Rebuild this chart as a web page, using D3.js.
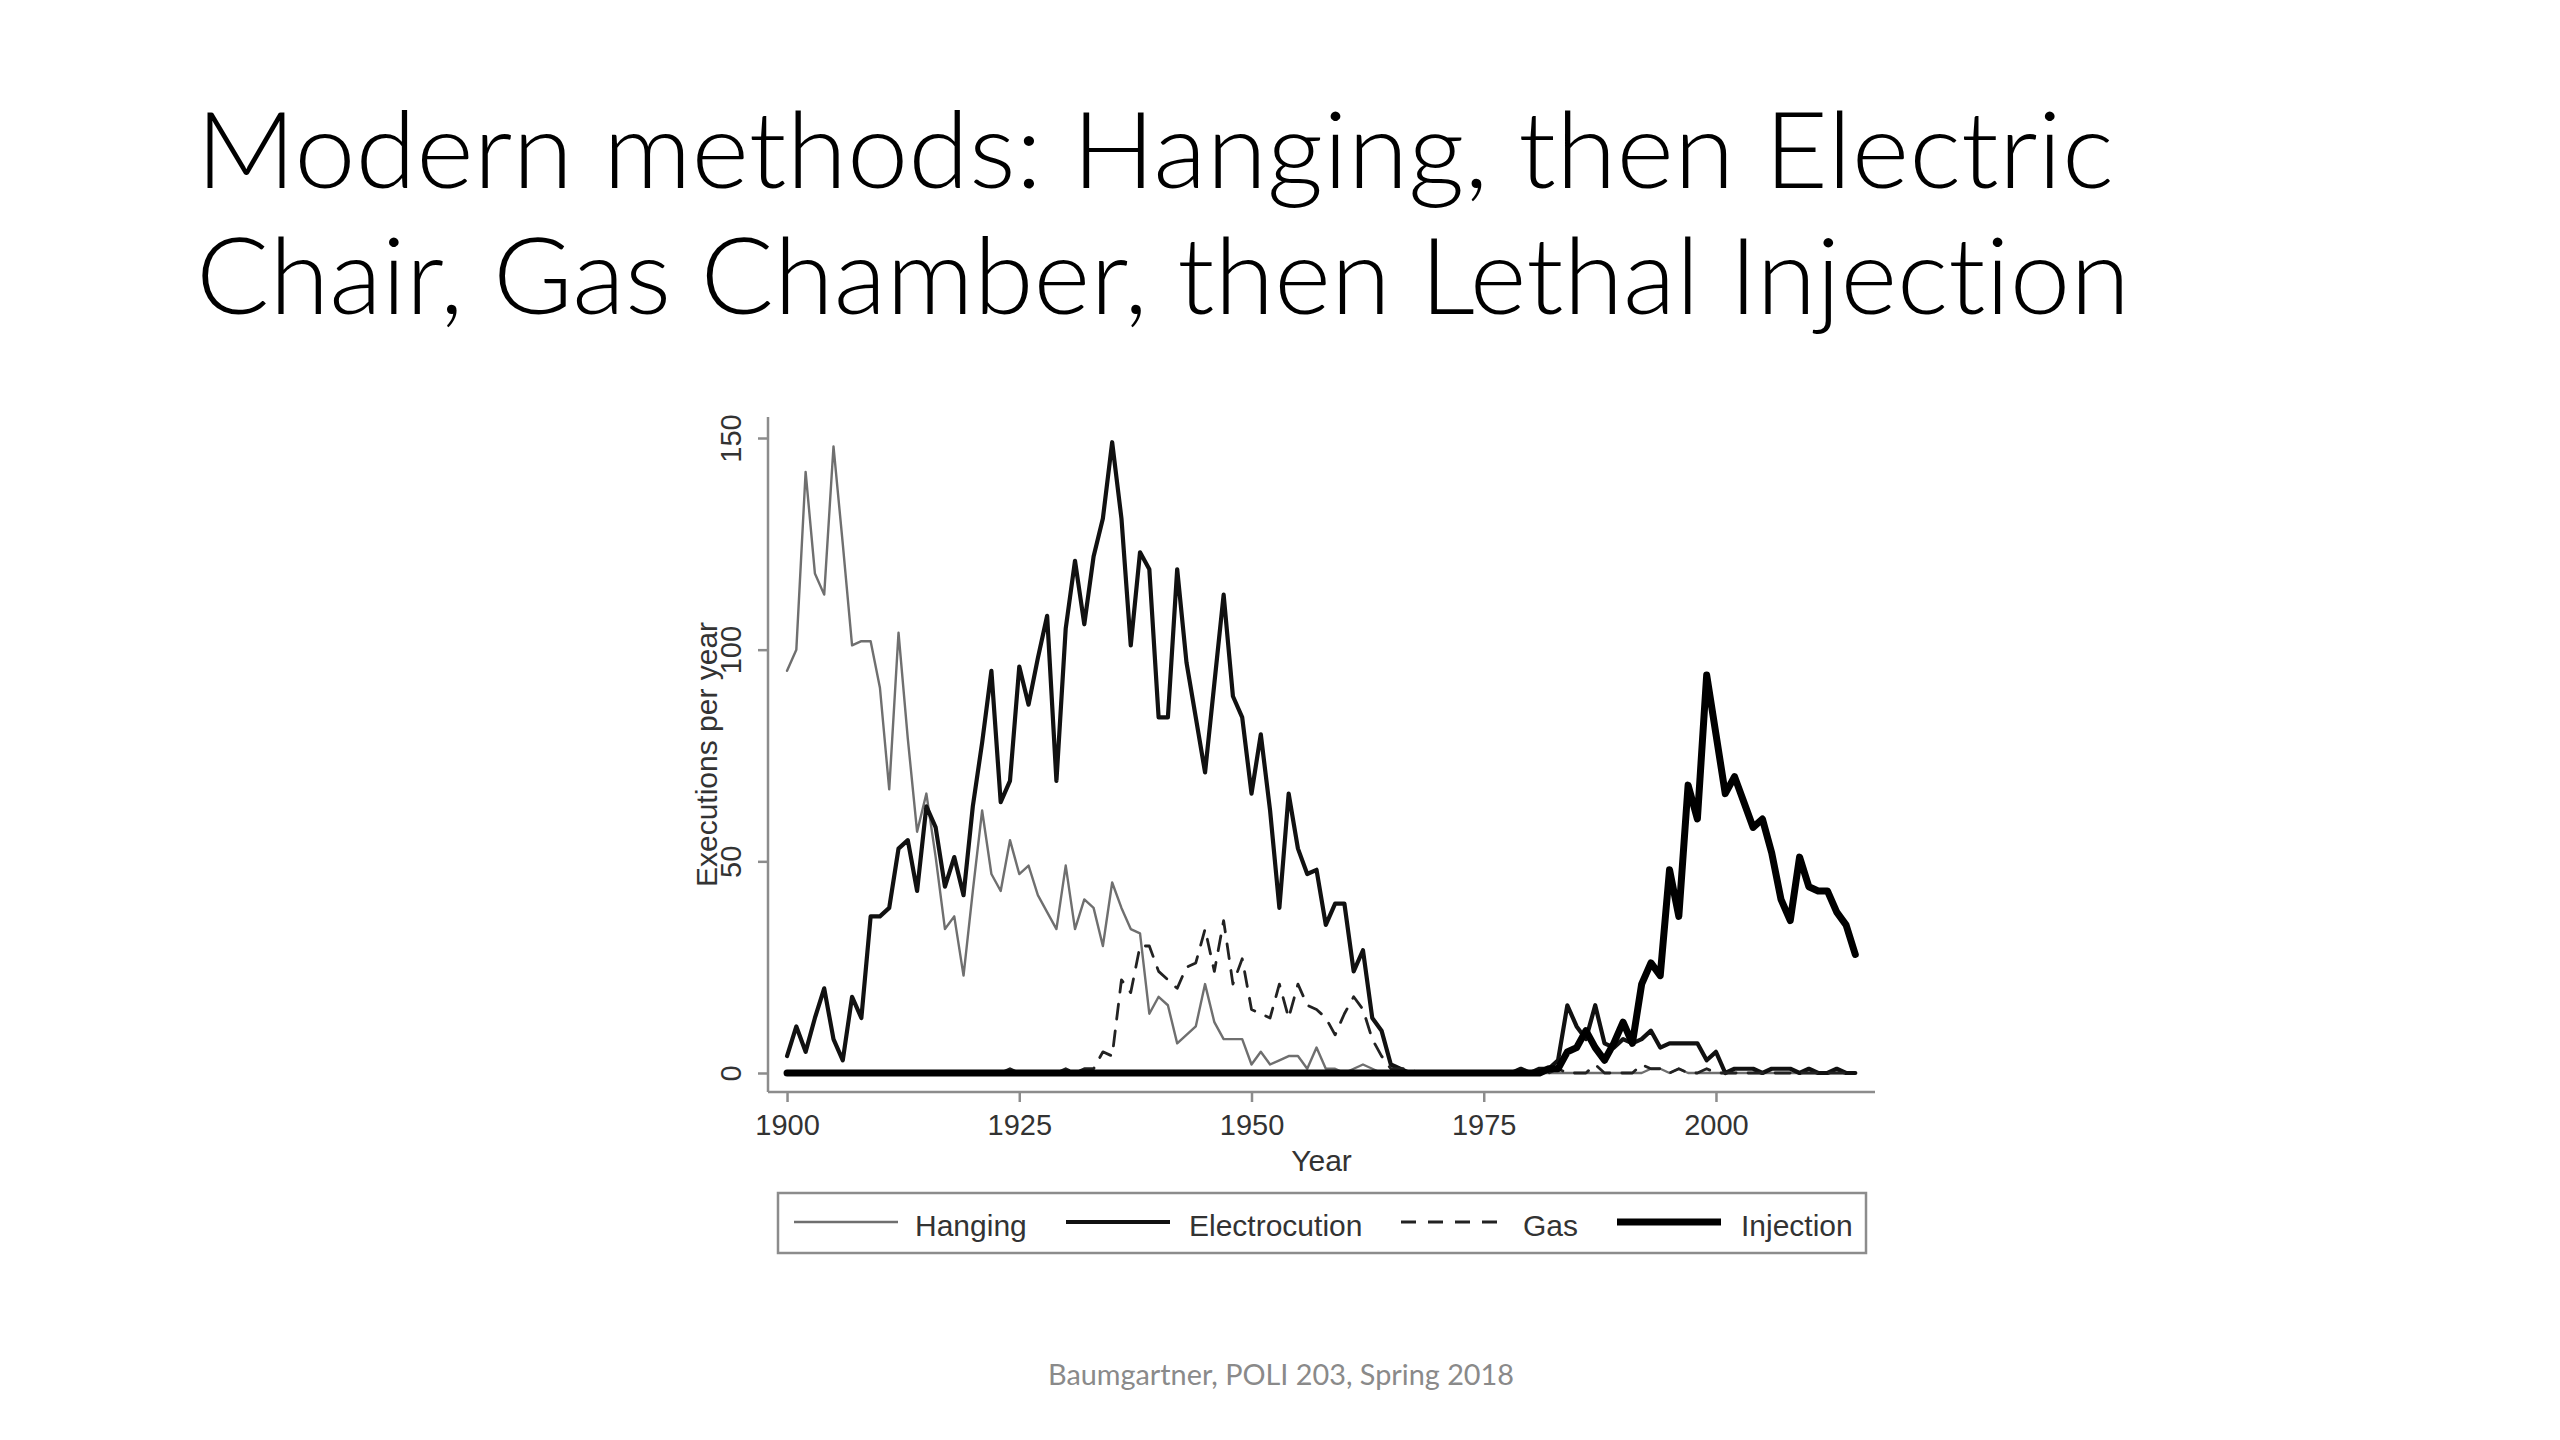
<!DOCTYPE html>
<html>
<head>
<meta charset="utf-8">
<script src="https://cdn.jsdelivr.net/npm/d3@7"></script>
<style>
  html, body { margin: 0; padding: 0; background: #fff; }
  svg { display: block; }
  .title { font-variant-ligatures: none; }
</style>
</head>
<body>
<div id="vis"></div>
<script>
const FRAME_WIDTH = 2560;
const FRAME_HEIGHT = 1440;

// data, executions per year 1900-2015
const YEARS = d3.range(1900, 2016);

const HANGING = [
  95, 100, 142, 118, 113, 148, 125, 101, 102, 102,
  91, 67, 104, 79, 57, 66, 51, 34, 37, 23,
  43, 62, 47, 43, 55, 47, 49, 42, 38, 34,
  49, 34, 41, 39, 30, 45, 39, 34, 33, 14,
  18, 16, 7, 9, 11, 21, 12, 8, 8, 8,
  2, 5, 2, 3, 4, 4, 1, 6, 1, 1,
  0, 1, 2, 1, 0, 0, 0, 0, 0, 0,
  0, 0, 0, 0, 0, 0, 0, 0, 0, 0,
  0, 0, 0, 0, 0, 0, 0, 0, 0, 0,
  0, 0, 0, 1, 1, 0, 1, 0, 0, 0,
  0, 0, 0, 0, 0, 0, 0, 0, 0, 0,
  0, 0, 0, 0, 0, 0
];

const ELECTROCUTION = [
  4, 11, 5, 13, 20, 8, 3, 18, 13, 37,
  37, 39, 53, 55, 43, 63, 58, 44, 51, 42,
  63, 78, 95, 64, 69, 96, 87, 98, 108, 69,
  105, 121, 106, 122, 131, 149, 131, 101, 123, 119,
  84, 84, 119, 97, 84, 71, 92, 113, 89, 84,
  66, 80, 62, 39, 66, 53, 47, 48, 35, 40,
  40, 24, 29, 13, 10, 2, 1, 0, 0, 0,
  0, 0, 0, 0, 0, 0, 0, 0, 0, 1,
  0, 1, 1, 3, 16, 11, 8, 16, 7, 6,
  8, 7, 8, 10, 6, 7, 7, 7, 7, 3,
  5, 0, 1, 1, 1, 0, 1, 1, 1, 0,
  1, 0, 0, 1, 0, 0
];

const GAS = [
  0, 0, 0, 0, 0, 0, 0, 0, 0, 0,
  0, 0, 0, 0, 0, 0, 0, 0, 0, 0,
  0, 0, 0, 0, 1, 0, 0, 0, 0, 0,
  1, 0, 1, 1, 5, 4, 22, 19, 30, 30,
  24, 22, 20, 25, 26, 34, 24, 36, 21, 27,
  15, 14, 13, 21, 13, 21, 16, 15, 13, 9,
  14, 18, 15, 8, 4, 1, 1, 1, 0, 0,
  0, 0, 0, 0, 0, 0, 0, 0, 0, 0,
  0, 0, 0, 1, 0, 0, 0, 2, 0, 0,
  0, 0, 2, 1, 1, 0, 1, 0, 0, 1,
  0, 0, 0, 0, 0, 0, 0, 0, 0, 0,
  0, 0, 0, 0, 0, 0
];

const INJECTION = [
  0, 0, 0, 0, 0, 0, 0, 0, 0, 0,
  0, 0, 0, 0, 0, 0, 0, 0, 0, 0,
  0, 0, 0, 0, 0, 0, 0, 0, 0, 0,
  0, 0, 0, 0, 0, 0, 0, 0, 0, 0,
  0, 0, 0, 0, 0, 0, 0, 0, 0, 0,
  0, 0, 0, 0, 0, 0, 0, 0, 0, 0,
  0, 0, 0, 0, 0, 0, 0, 0, 0, 0,
  0, 0, 0, 0, 0, 0, 0, 0, 0, 0,
  0, 0, 1, 1, 5, 6, 10, 6, 3, 7,
  12, 7, 21, 26, 23, 48, 37, 68, 60, 94,
  80, 66, 70, 64, 58, 60, 52, 41, 36, 51,
  44, 43, 43, 38, 35, 28
];

const X_TICKS = [1900, 1925, 1950, 1975, 2000];
const Y_TICKS = [0, 50, 100, 150];
const SERIES_NAMES = ["Hanging", "Electrocution", "Gas", "Injection"];

const TITLE_LINES = [
  "Modern methods: Hanging, then Electric",
  "Chair, Gas Chamber, then Lethal Injection"
];
const FOOTER = "Baumgartner, POLI 203, Spring 2018";

// line styles per series
const STYLES = {
  Hanging:       {stroke: "#6f6f6f", width: 2.4, dash: null},
  Electrocution: {stroke: "#111",    width: 4.2, dash: null},
  Gas:           {stroke: "#222",    width: 2.8, dash: "15,12"},
  Injection:     {stroke: "#000",    width: 7,   dash: null}
};

const PLOT = {left: 768, right: 1875, top: 417, bottom: 1092};

const svg = d3.select("#vis")
  .append("svg")
    .attr("width", FRAME_WIDTH)
    .attr("height", FRAME_HEIGHT);

svg.append("rect")
  .attr("width", FRAME_WIDTH)
  .attr("height", FRAME_HEIGHT)
  .attr("fill", "#fff");

// title
const titleWidths = [1918, 1934];
svg.selectAll(".title")
  .data(TITLE_LINES)
  .enter()
  .append("text")
    .attr("class", "title")
    .attr("x", 196)
    .attr("y", (d, i) => 188 + i * 126)
    .attr("font-family", "Lato, 'Open Sans', sans-serif")
    .attr("font-weight", 300)
    .attr("font-size", 107)
    .attr("fill", "#000")
    .attr("textLength", (d, i) => titleWidths[i])
    .attr("lengthAdjust", "spacingAndGlyphs")
    .text(d => d);

// scales: axis lines sit a bit outside the data range like in Stata
const X_SCALE = d3.scaleLinear()
  .domain([1897.95, 2017.12])
  .range([PLOT.left, PLOT.right]);

const Y_SCALE = d3.scaleLinear()
  .domain([-4.49, 154.96])
  .range([PLOT.bottom, PLOT.top]);

const AXIS_COLOR = "#8c8c8c";
const TEXT_COLOR = "#333";
const FONT = "'Liberation Sans', Arial, sans-serif";

// x axis
const xAxis = svg.append("g")
  .attr("transform", "translate(0," + PLOT.bottom + ")")
  .call(d3.axisBottom(X_SCALE).tickValues(X_TICKS).tickFormat(d3.format("d"))
        .tickSize(10).tickSizeOuter(0).tickPadding(12));
xAxis.selectAll("path, line").attr("stroke", AXIS_COLOR).attr("stroke-width", 2.5);
xAxis.selectAll("text")
  .attr("font-family", FONT)
  .attr("font-size", 29)
  .attr("fill", TEXT_COLOR);

// y axis, labels rotated
const yAxis = svg.append("g")
  .attr("transform", "translate(" + PLOT.left + ",0)")
  .call(d3.axisLeft(Y_SCALE).tickValues(Y_TICKS).tickSize(10).tickSizeOuter(0));
yAxis.selectAll("path, line").attr("stroke", AXIS_COLOR).attr("stroke-width", 2.5);
yAxis.selectAll("text")
  .attr("x", 0)
  .attr("dy", null)
  .attr("transform", "translate(-37,0) rotate(-90)")
  .attr("text-anchor", "middle")
  .attr("dominant-baseline", "central")
  .attr("font-family", FONT)
  .attr("font-size", 29)
  .attr("fill", TEXT_COLOR);

yAxis.select(".domain").attr("d", "M0," + PLOT.bottom + "V" + PLOT.top);
xAxis.select(".domain").attr("d", "M" + PLOT.left + ",0H" + PLOT.right);

// axis titles
svg.append("text")
  .attr("x", (PLOT.left + PLOT.right) / 2)
  .attr("y", 1171)
  .attr("text-anchor", "middle")
  .attr("font-family", FONT)
  .attr("font-size", 30)
  .attr("fill", TEXT_COLOR)
  .text("Year");

svg.append("text")
  .attr("transform", "translate(706," + ((PLOT.top + PLOT.bottom) / 2) + ") rotate(-90)")
  .attr("text-anchor", "middle")
  .attr("dominant-baseline", "central")
  .attr("font-family", FONT)
  .attr("font-size", 30)
  .attr("fill", TEXT_COLOR)
  .text("Executions per year");

// lines
const seriesData = {
  Hanging: HANGING,
  Electrocution: ELECTROCUTION,
  Gas: GAS,
  Injection: INJECTION
};

const line = d3.line()
  .x((d) => X_SCALE(d.year))
  .y((d) => Y_SCALE(d.value));

SERIES_NAMES.forEach((name) => {
  const pts = YEARS.map((yr, i) => ({year: yr, value: seriesData[name][i]}));
  const st = STYLES[name];
  svg.append("path")
    .datum(pts)
    .attr("d", line)
    .attr("fill", "none")
    .attr("stroke", st.stroke)
    .attr("stroke-width", st.width)
    .attr("stroke-dasharray", st.dash)
    .attr("stroke-linejoin", "round")
    .attr("stroke-linecap", "round");
});

// legend
const LEGEND = {x: 778, y: 1193, w: 1088, h: 60};
svg.append("rect")
  .attr("x", LEGEND.x)
  .attr("y", LEGEND.y)
  .attr("width", LEGEND.w)
  .attr("height", LEGEND.h)
  .attr("fill", "#fff")
  .attr("stroke", AXIS_COLOR)
  .attr("stroke-width", 2.5);

const legendLineX = [794, 1066, 1401, 1617];
const legendTextX = [915, 1189, 1523, 1741];
const legendMidY = LEGEND.y + LEGEND.h / 2;

const items = svg.selectAll(".legend-item")
  .data(SERIES_NAMES)
  .enter()
  .append("g")
    .attr("class", "legend-item");

items.append("line")
  .attr("x1", (d, i) => legendLineX[i])
  .attr("x2", (d, i) => legendLineX[i] + 104)
  .attr("y1", legendMidY - 1)
  .attr("y2", legendMidY - 1)
  .attr("stroke", d => STYLES[d].stroke)
  .attr("stroke-width", d => STYLES[d].width)
  .attr("stroke-dasharray", d => STYLES[d].dash);

items.append("text")
  .attr("x", (d, i) => legendTextX[i])
  .attr("y", legendMidY + 2)
  .attr("dominant-baseline", "central")
  .attr("font-family", FONT)
  .attr("font-size", 30)
  .attr("fill", TEXT_COLOR)
  .text(d => d);

// footer
svg.append("text")
  .attr("x", 1281)
  .attr("y", 1385)
  .attr("text-anchor", "middle")
  .attr("font-family", "Lato, 'Open Sans', sans-serif")
  .attr("font-size", 28)
  .attr("fill", "#8a8a8a")
  .attr("textLength", 466)
  .attr("lengthAdjust", "spacingAndGlyphs")
  .text(FOOTER);
</script>
</body>
</html>
